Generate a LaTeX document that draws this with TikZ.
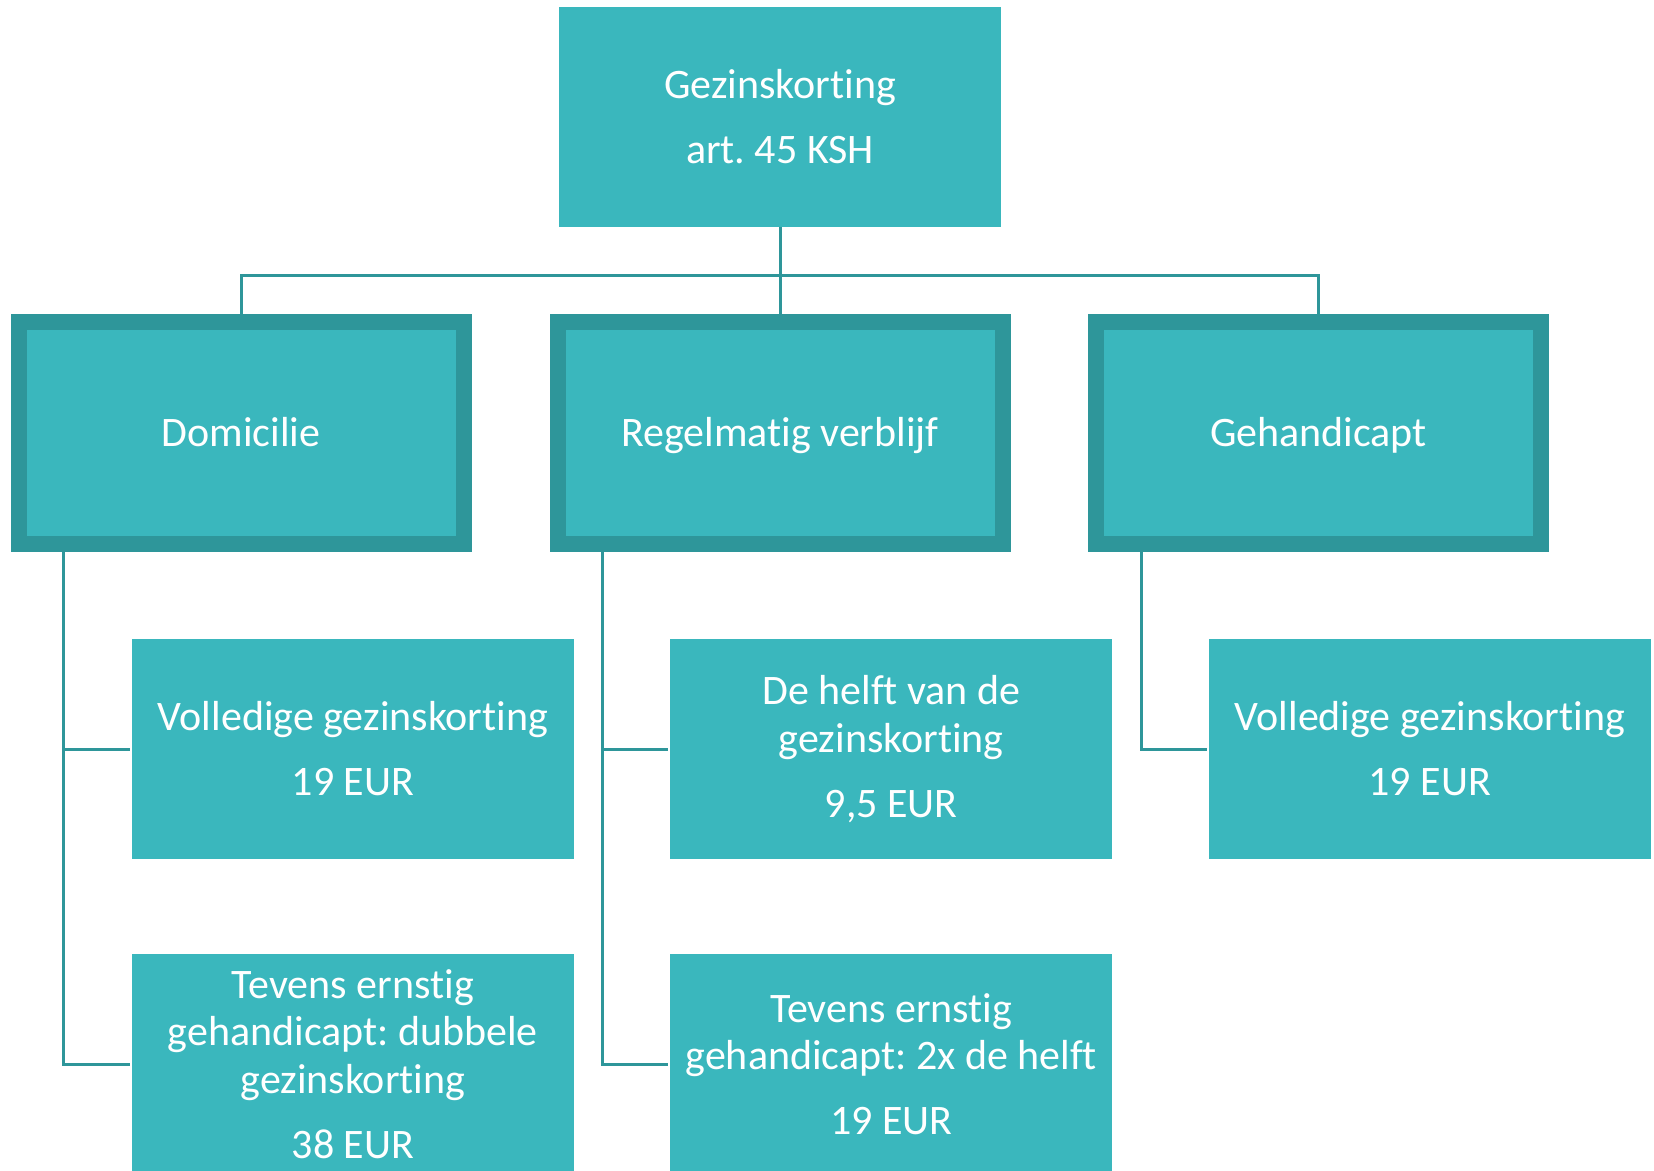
\documentclass[tikz,border=0pt]{standalone}
\usepackage{fontspec}
\setmainfont{Carlito}[Ligatures={NoCommon,NoContextual}]
\definecolor{tealfill}{HTML}{3AB7BD}
\definecolor{tealdark}{HTML}{2E969A}
\frenchspacing
\begin{document}
\begin{tikzpicture}[x=1pt,y=-1pt,
  txt/.style={text=white,align=center,font=\fontsize{42}{47.5}\selectfont},
  plainbox/.style={txt,fill=tealfill,draw=none,inner sep=0pt,minimum width=442pt,minimum height=219.5pt},
  framebox/.style={txt,fill=tealfill,draw=tealdark,line width=16pt,inner sep=0pt,
    text height=33pt,text depth=7pt,minimum width=445pt,minimum height=221.7pt},
  conn/.style={draw=tealdark,line width=3pt}]
\useasboundingbox (0,0) rectangle (1654,1170);
\clip (0,0) rectangle (1654,1170);

% root
\node[plainbox] (T) at (780,117) {Gezinskorting\\[17.5pt]art. 45 KSH};

% categories
\node[framebox] (A) at (241,433) {Domicilie};
\node[framebox] (B) at (780,433) {Regelmatig verblijf};
\node[framebox] (C) at (1318.5,433) {Gehandicapt};

% amounts
\node[plainbox] (A1) at (352.9,749) {Volledige gezinskorting\\[17.5pt]19 EUR};
\node[plainbox] (A2) at (352.9,1064) {Tevens ernstig\\gehandicapt: dubbele\\gezinskorting\\[17.5pt]38 EUR};
\node[plainbox] (B1) at (891.3,749) {\rule{0pt}{2pt}De helft van de\\gezinskorting\\[17.5pt]9,5 EUR};
\node[plainbox] (B2) at (891.3,1064) {Tevens ernstig\\gehandicapt: 2x de helft\\[17.5pt]19 EUR};
\node[plainbox] (C1) at (1429.8,749) {Volledige gezinskorting\\[17.5pt]19 EUR};

% root to categories
\coordinate (bus) at (0,275);
\draw[conn] (T.south) -- (B.north);
\draw[conn] (A.north) -- (A.north |- bus) -- (C.north |- bus) -- (C.north);

% categories to amounts
\draw[conn] ([xshift=53pt]A.south west) |- ([xshift=-2pt]A1.west);
\draw[conn] ([xshift=53pt]A.south west) |- ([xshift=-2pt]A2.west);
\draw[conn] ([xshift=53pt]B.south west) |- ([xshift=-2pt]B1.west);
\draw[conn] ([xshift=53pt]B.south west) |- ([xshift=-2pt]B2.west);
\draw[conn] ([xshift=53pt]C.south west) |- ([xshift=-2pt]C1.west);
\end{tikzpicture}
\end{document}
